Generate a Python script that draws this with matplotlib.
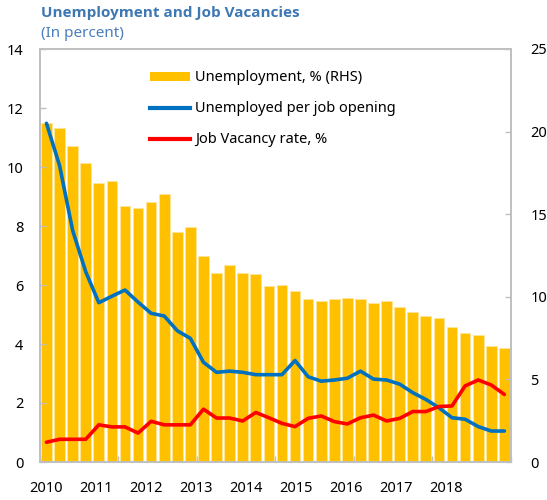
import numpy as np
import matplotlib
matplotlib.use("Agg")
import matplotlib.pyplot as plt
from matplotlib.patches import Patch
from matplotlib.lines import Line2D

plt.rcParams['font.family'] = ['Noto Sans', 'DejaVu Sans']

# quarterly data, 2010Q1 - 2018Q4
years = ['2010', '2011', '2012', '2013', '2014', '2015', '2016', '2017', '2018']

unemployment = [20.5, 20.2, 19.15, 18.1, 16.9, 17.0, 15.5, 15.4,
                15.75, 16.2, 13.95, 14.2, 12.5, 11.45, 11.9, 11.45,
                11.35, 10.65, 10.7, 10.35, 9.85, 9.75, 9.85, 9.95,
                9.85, 9.6, 9.75, 9.4, 9.05, 8.85, 8.7, 8.15,
                7.8, 7.7, 7.05, 6.9]

unemp_per_opening = [11.48, 10.05, 7.85, 6.45, 5.4, 5.62, 5.83, 5.42,
                     5.04, 4.95, 4.45, 4.19, 3.38, 3.04, 3.08, 3.04,
                     2.96, 2.96, 2.96, 3.44, 2.89, 2.74, 2.78, 2.84,
                     3.08, 2.81, 2.78, 2.64, 2.35, 2.12, 1.84, 1.5,
                     1.45, 1.2, 1.05, 1.05]

vacancy_rate = [0.67, 0.77, 0.77, 0.77, 1.26, 1.19, 1.19, 0.98,
                1.38, 1.26, 1.26, 1.26, 1.79, 1.49, 1.49, 1.39,
                1.68, 1.5, 1.31, 1.2, 1.48, 1.56, 1.37, 1.29,
                1.5, 1.59, 1.39, 1.48, 1.71, 1.71, 1.88, 1.9,
                2.58, 2.78, 2.61, 2.29]

n = len(unemployment)
x = np.arange(n)

fig = plt.figure(figsize=(5.47, 5.0), dpi=100)
ax = fig.add_axes([0.073, 0.076, 0.861, 0.826])
ax2 = ax.twinx()

# bars on the right axis, lines on the left axis
ax2.bar(x, unemployment, width=0.82, color='#FFC000', edgecolor='#FFE599',
        linewidth=0.6, zorder=1)
ax2.set_ylim(0, 25)
ax2.set_yticks([0, 5, 10, 15, 20, 25])

ax.set_zorder(ax2.get_zorder() + 1)
ax.patch.set_visible(False)
ax.plot(x, unemp_per_opening, color='#0070C0', lw=2.6, solid_capstyle='round',
        solid_joinstyle='round')
ax.plot(x, vacancy_rate, color='#FF0000', lw=2.6, solid_capstyle='round',
        solid_joinstyle='round')
ax.set_ylim(0, 14)
ax.set_yticks(range(0, 15, 2))
ax.set_xlim(-0.5, n - 0.5)

# year labels (Excel spacing), ticks every 6 quarters
lab_pos = [k * 3.82 for k in range(len(years))]
ax.set_xticks(lab_pos)
ax.set_xticklabels(years)
ax.set_xticks(np.arange(-0.5, n, 6), minor=True)
ax.tick_params(axis='x', which='major', length=0, pad=14, labelsize=10.5)
ax.tick_params(axis='x', which='minor', length=4, direction='in',
               color='#BFBFBF', width=1)
ax.tick_params(axis='y', length=4, direction='in', color='#BFBFBF',
               width=1, labelsize=10.5, pad=12)
ax2.tick_params(axis='y', length=4, direction='in', color='#BFBFBF',
                width=1, labelsize=10.5, pad=14)

for a in (ax, ax2):
    for s in a.spines.values():
        s.set_color('#BFBFBF')
        s.set_linewidth(1.2)

handles = [Patch(facecolor='#FFC000', edgecolor='none'),
           Line2D([], [], color='#0070C0', lw=3),
           Line2D([], [], color='#FF0000', lw=3)]
labels = ['Unemployment, % (RHS)', 'Unemployed per job opening',
          'Job Vacancy rate, %']
ax.legend(handles, labels, loc='upper left', bbox_to_anchor=(0.205, 0.98),
          frameon=False, fontsize=10.5, handlelength=2.8, handleheight=0.55,
          labelspacing=1.1, handletextpad=0.3)

fig.text(0.075, 0.975, 'Unemployment and Job Vacancies', color='#3E78B4',
         fontsize=11, fontweight='bold', family=['Open Sans', 'DejaVu Sans'],
         ha='left', va='center')
fig.text(0.075, 0.933, '(In percent)', color='#4A7EBB', fontsize=11,
         ha='left', va='center')

plt.savefig('out.png', dpi=100)
